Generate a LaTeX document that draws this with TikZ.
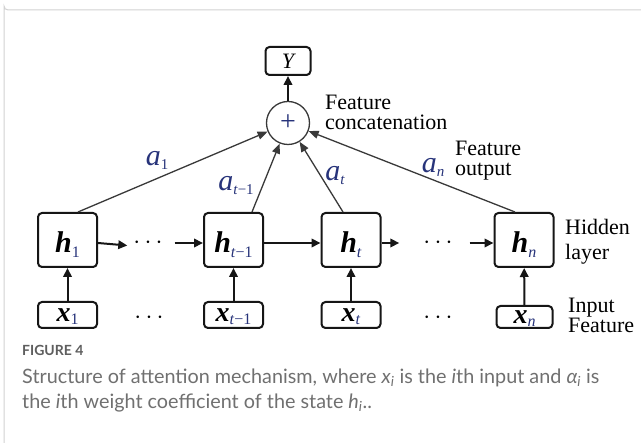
\documentclass[tikz,border=0pt]{standalone}
\usepackage{fontspec}
\setmainfont{Liberation Serif}
\newfontfamily\capfont{Lato}
\usetikzlibrary{arrows.meta}
\definecolor{ink}{HTML}{161616}
\definecolor{navy}{HTML}{27337A}
\definecolor{capgray}{HTML}{707070}
\definecolor{headgray}{HTML}{5E5E5E}
\definecolor{framegray}{HTML}{D2D2D2}
% cell contents: bold italic symbol with a small blue index
\newcommand\cellidx[2]{\raisebox{#1}{\fontsize{16}{16}\selectfont\textcolor{navy}{#2}}}
\newcommand\hsym[1]{{\fontsize{30}{30}\selectfont\bfseries\itshape h}\cellidx{-5pt}{#1}}
\newcommand\xsym[1]{{\fontsize{28}{28}\selectfont\bfseries\itshape x}\cellidx{-3pt}{#1}}
% attention weights
\newcommand\wsym[1]{{\itshape a}\raisebox{-4pt}{\fontsize{15}{15}\selectfont #1}}
\begin{document}
\begin{tikzpicture}[x=1pt,y=-1pt,
  cell/.style={draw=ink, line width=2pt, rounded corners=4pt, minimum width=59pt, inner sep=0pt},
  hcell/.style={cell, minimum height=54pt, text height=26pt, text depth=0pt},
  xcell/.style={cell, minimum height=26pt, text height=13pt, text depth=0pt},
  flow/.style={draw=ink, line width=2pt, -{Triangle[length=9pt,width=8.5pt]}},
  attn/.style={draw=ink!85, line width=1.3pt, -{Triangle[length=10pt,width=8pt]}},
  lbl/.style={font=\fontsize{22}{20}\selectfont, align=left, inner sep=0pt, anchor=west},
  wt/.style={text=navy, font=\fontsize{30}{30}\selectfont, inner sep=0pt},
  dotrow/.style={font=\fontsize{27}{27}\selectfont, inner sep=0pt}]
\useasboundingbox (0,0) rectangle (641,443);
\fill[white] (0,0) rectangle (641,443);
% figure frame
\draw[framegray, line width=1pt] (641,10) -- (8,10) arc[start angle=90, end angle=180, radius=4] -- (4,443);

% output and fusion
\node[draw=ink, line width=2pt, rounded corners=4pt, minimum width=45pt, minimum height=28pt, inner sep=0pt,
      font=\fontsize{22}{22}\selectfont\itshape] (Y) at (288,61) {Y};
\node[circle, draw=ink!85, line width=1.3pt, minimum size=43pt, inner sep=0pt,
      font=\fontsize{28}{28}\selectfont, text=navy] (plus) at (288,123) {+};

% hidden states
\node[hcell] (h1) at (67.5,240) {\hsym{1}};
\node[hcell] (hb) at (233.5,240) {\hsym{\textit{t}−1}};
\node[hcell] (ht) at (351,240) {\hsym{\textit{t}}};
\node[hcell] (hn) at (524,240) {\hsym{\textit{n}}};

% inputs
\node[xcell] (x1) at (67.5,315) {\xsym{1}};
\node[xcell] (xb) at (233.5,315) {\xsym{\textit{t}−1}};
\node[xcell] (xt) at (351,315) {\xsym{\textit{t}}};
\node[xcell, minimum width=56pt, minimum height=22pt] (xn) at (524.5,317) {\xsym{\textit{n}}};

% ellipses
\node[dotrow] (d1) at (148,243) {$\cdots$};
\node[dotrow] (d2) at (438,243) {$\cdots$};
\node[dotrow] (e1) at (149,318) {$\cdots$};
\node[dotrow] (e2) at (438,318) {$\cdots$};

% recurrence
\draw[flow, shorten >=6pt] ([yshift=-3pt]h1.east) -- ([yshift=-3pt]d1.west);
\draw[flow, shorten <=12pt] (d1.east) -- ([yshift=-3pt]hb.west);
\draw[flow] ([yshift=-3pt]hb.east) -- ([yshift=-3pt]ht.west);
\draw[flow, shorten >=24pt] ([yshift=-3pt]ht.east) -- (d2.west);
\draw[flow, shorten <=17pt] (d2.east) -- ([yshift=-3pt]hn.west);

% inputs feed the states
\foreach \s in {1,b,t,n} \draw[flow] (x\s) -- (h\s);

% attention connections
\draw[attn] ([xshift=10.5pt]h1.north) -- (plus);
\draw[attn] ([xshift=18.5pt]hb.north) -- (plus);
\draw[attn] ([xshift=-8pt]ht.north) -- (plus);
\draw[attn] ([xshift=-9pt]hn.north) -- (plus);
\draw[flow] (plus) -- (Y);

% weights
\node[wt] (w1) at (157,160) {\wsym{1}};
\node[wt] (wb) at (236,186) {\wsym{\textit{t}−1}};
\node[wt] (wt) at (335,176) {\wsym{\textit{t}}};
\node[wt] (wn) at (433,167) {\wsym{\textit{n}}};

% annotations
\node[lbl] (cat) at (325,112.5) {Feature\\concatenation};
\node[lbl] (out) at (455,161) {Feature\\output};
\node[lbl, font=\fontsize{22}{25}\selectfont] (hid) at (565,242) {Hidden\\layer};
\node[lbl] (inp) at (568,315) {Input\\Feature};

% caption
\node[anchor=base west, inner sep=0pt, text=headgray, font=\capfont\bfseries\fontsize{14}{14}\selectfont] (fig) at (22,356) {FIGURE 4};
\node[anchor=north west, inner sep=0pt, text=capgray, align=left,
      font=\capfont\fontsize{19.8}{25}\selectfont] (cap) at (22,369)
  {Structure of attention mechanism, where \textit{x}\textsubscript{\textit{i}} is the \textit{i}th input and \textit{α}\textsubscript{\textit{i}} is\\
   the \textit{i}th weight coefficient of the state \textit{h}\textsubscript{\textit{i}}..};
\end{tikzpicture}
\end{document}
